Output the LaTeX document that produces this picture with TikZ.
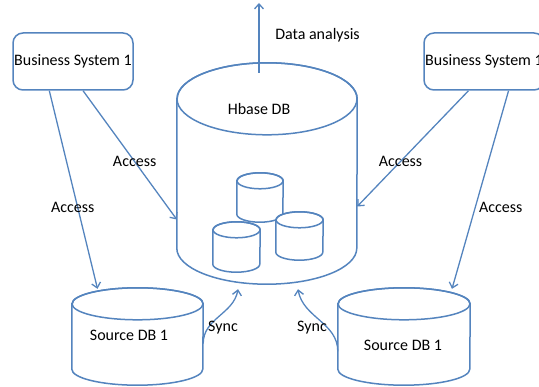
\documentclass[tikz,border=0pt]{standalone}
\usepackage{fontspec}
\setmainfont{Carlito}
\usepackage{tikz}
\usetikzlibrary{arrows.meta}
\definecolor{dbblue}{RGB}{84,132,190}
% name, x, y, width, height, end radius
\newcommand{\dbcyl}[6]{%
  \node[inner sep=0pt, minimum width=#4pt, minimum height=#5pt] (#1) at (#2,#3) {};
  \filldraw[dbline, fill=white] (#1.north west) ++(0,-#6) -- ([yshift=#6pt]#1.south west)
    arc[start angle=180, end angle=360, x radius=#4/2, y radius=#6] -- ([yshift=-#6pt]#1.north east)
    arc[start angle=0, end angle=180, x radius=#4/2, y radius=#6] -- cycle;
  \draw[dbline] ([yshift=-#6pt]#1.north) ellipse [x radius=#4/2, y radius=#6];
}

\begin{document}
\begin{tikzpicture}[x=1pt,y=1pt,font=\fontsize{16}{19}\selectfont,
    dbline/.style={draw=dbblue, line width=1.5pt},
    sysbox/.style={draw=dbblue, line width=1.5pt, rounded corners=10pt, minimum width=120pt, minimum height=57pt, inner sep=0pt},
    conn/.style={draw=dbblue, line width=1.3pt, -{Straight Barb[length=5pt,width=9pt]}}]
                \clip (0,-387) rectangle (539,0);
                \dbcyl{hb}{267}{-173.5}{180}{221}{36}
                \node (hblabel) at (259,-109) {Hbase DB};
                \dbcyl{cA}{260}{-197.5}{46}{49}{8}
                \dbcyl{cB}{236.5}{-247}{47}{50}{8}
                \dbcyl{cC}{299.5}{-236}{47}{48}{8}
                \dbcyl{srcA}{137.5}{-336.5}{131}{97}{16}
                \node (srcAlabel) at (129,-335) {Source DB 1};
                \dbcyl{srcB}{404}{-336.5}{132}{97}{16}
                \node (srcBlabel) at (403,-345) {Source DB 1};
                \node[sysbox] (bsA) at (73,-61.5) {Business System 1};
                \node[sysbox] (bsB) at (484,-61.5) {Business System 1};
                \coordinate (top) at (259,-3);
                \draw[conn] ([xshift=-8pt,yshift=-10pt]hb.north) -- (top);
                \node (datalabel) at (317.5,-35) {Data analysis};
                \draw[conn] (bsA.231) -- ([xshift=-40pt,yshift=-1pt]srcA.north) node[pos=.59, xshift=-5pt] (accA) {Access};
                \draw[conn] (bsA.289) -- ([yshift=-46pt]hb.west) node[pos=.55] (accB) {Access};
                \draw[conn] (bsB.242) -- ([yshift=-33pt]hb.east) node[pos=.61] (accC) {Access};
                \draw[conn] (bsB.310) -- ([xshift=48pt,yshift=-1pt]srcB.north) node[pos=.59, anchor=west] (accD) {Access};
                \draw[conn] ([yshift=-7pt]srcA.east) to[out=90,in=-100] ([xshift=-29pt,yshift=-5pt]hb.south);
                \draw[conn] ([yshift=-15pt]srcB.west) to[out=90,in=-80] ([xshift=31pt,yshift=-5pt]hb.south);
                \node (syncA) at (223,-328) {Sync};
                \node (syncB) at (312,-328) {Sync};
            \end{tikzpicture}
\end{document}
